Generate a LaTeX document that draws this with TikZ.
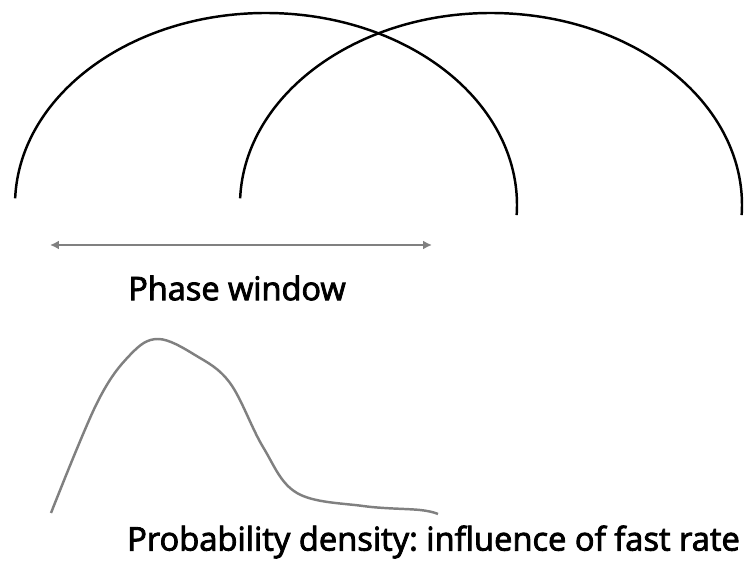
\documentclass[tikz,border=0pt]{standalone}
\usepackage{fontspec}
\setmainfont{Open Sans}[FakeBold=2.6]
\usepackage{tikz}
\usetikzlibrary{positioning,arrows.meta}
\definecolor{curvegray}{RGB}{128,128,128}
\frenchspacing

\begin{document}
\begin{tikzpicture}[scale=1]
		
		\useasboundingbox (0,0) rectangle (14.94,11.34);
		
		% two overlapping arcs
		\draw[line width=1.4pt] (0.303,7.374) arc[start angle=178,end angle=-3,x radius=5.02,y radius=3.84];
		\draw[line width=1.4pt] (4.803,7.374) arc[start angle=178,end angle=-3,x radius=5.02,y radius=3.84];
		
		\coordinate (wl) at (1.0,6.44);
		\coordinate (wr) at (8.64,6.44);
		\draw[{Latex[length=5pt,width=5pt]}-{Latex[length=5pt,width=5pt]},line width=1.2pt,curvegray] (wl)--(wr);
		
		\node[font=\fontsize{18.5}{22}\selectfont] (window) at (4.74,5.58) {Phase window};
		
		% density curve
		\draw[line width=1.4pt,curvegray] plot[smooth,tension=0.6] coordinates {(1.02,1.08) (1.94,3.28) (2.6,4.24) (3.16,4.56) (3.9,4.24) (4.6,3.68) (5.26,2.4) (5.94,1.48) (7.26,1.22) (8.4,1.14) (8.76,1.06)};
		
		\node[font=\fontsize{18.6}{22}\selectfont,anchor=east] (density) at (14.92,0.5) {Probability density: influence of fast rate};
		
	\end{tikzpicture}
\end{document}
